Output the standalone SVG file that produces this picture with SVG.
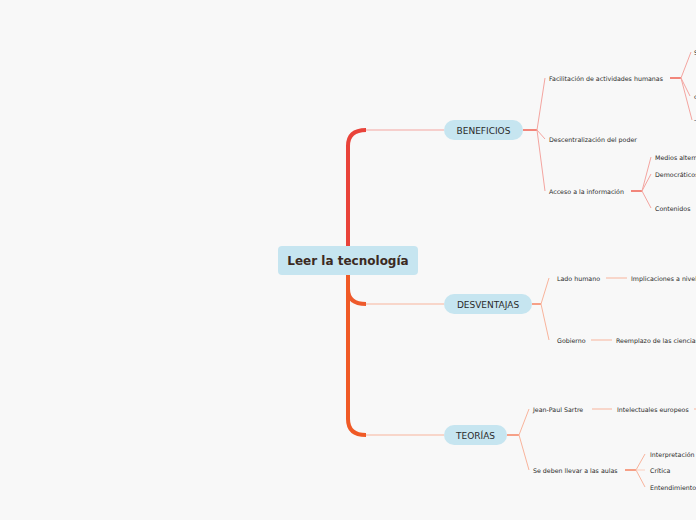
<svg xmlns="http://www.w3.org/2000/svg" width="696" height="520" viewBox="0 0 696 520">
<style>
.bg{fill:#f8f8f8}
.pill{fill:#c6e5f0}
.root{fill:#c6e5f0}
.rt{font-family:"DejaVu Sans",Verdana,sans-serif;font-weight:bold;font-size:12px;fill:#3b2a22;text-anchor:middle}
.nt{font-family:"DejaVu Sans",Verdana,sans-serif;font-size:9px;fill:#2a2a2a;text-anchor:middle}
.lt{font-family:"DejaVu Sans",Verdana,sans-serif;font-size:6.3px;fill:#2a2a2a}
.r{fill:none;stroke:#f4a5a0;stroke-width:1}
.o{fill:none;stroke:#f8b49c;stroke-width:1}
.rs{fill:none;stroke:#f06a5c;stroke-width:1.6}
.os{fill:none;stroke:#f58a6a;stroke-width:1.6}
</style>
<rect class="bg" x="0" y="0" width="696" height="520"/>
<g id="connectors">
<path d="M348,250 L348,146 Q348,130 366,130" fill="none" stroke="#e9433a" stroke-width="4"/>
<path d="M366,130 L444,130" class="r"/>
<path d="M348,272 L348,289 Q348,304 366,304" fill="none" stroke="#ee5a2c" stroke-width="4"/>
<path d="M366,304 L444,304" class="o"/>
<path d="M348,272 L348,419 Q348,435 366,435" fill="none" stroke="#f05a26" stroke-width="4"/>
<path d="M366,435 L444,435" class="o"/>
<path d="M523,130 L537,130" class="rs"/>
<path d="M537,130 L545,78 M537,130 L545,139 M537,130 L545,191" class="r"/>
<path d="M670,78 L681,78" class="rs"/>
<path d="M681,78 L691,52 M681,78 L690,96 M681,78 L692,120" class="r"/>
<path d="M631,191 L642,191" class="rs"/>
<path d="M642,191 L651,157 M642,191 L651,174 M642,191 L651,208" class="r"/>
<path d="M532,304 L541,304" class="os"/>
<path d="M541,304 L549,278 M541,304 L549,340" class="o"/>
<path d="M606,278 L627,278 M591,340 L612,340" class="o"/>
<path d="M507,435 L519,435" class="os"/>
<path d="M519,435 L529,409 M519,435 L529,470" class="o"/>
<path d="M592,409 L612,409 M694,409 L696,409" class="o"/>
<path d="M625,470 L636,470" class="os"/>
<path d="M636,470 L645,454 M636,470 L645,487" class="o"/>
<path d="M636,470 L645,470" fill="none" stroke="#fbd0c0" stroke-width="1"/>
</g>
<g id="root">
<rect class="root" x="278" y="246" width="140" height="29" rx="4"/>
<text class="rt" x="348" y="265">Leer la tecnología</text>
</g>
<g id="beneficios">
<rect class="pill" x="444" y="120" width="79" height="20" rx="10"/>
<text class="nt" x="483.5" y="133.5">BENEFICIOS</text>
</g>
<g id="desventajas">
<rect class="pill" x="444" y="294" width="88" height="20" rx="10"/>
<text class="nt" x="488" y="307.5">DESVENTAJAS</text>
</g>
<g id="teorias">
<rect class="pill" x="444" y="425" width="63" height="20" rx="10"/>
<text class="nt" x="475.5" y="438.5">TEORÍAS</text>
</g>
<g id="facilitacion"><text class="lt" x="549" y="80.5">Facilitación de actividades humanas</text></g>
<g id="f1"><text class="lt" x="694" y="54.5">S</text></g>
<g id="f2"><text class="lt" x="694" y="98.5">c</text></g>
<g id="f3"><text class="lt" x="694" y="122">-</text></g>
<g id="descentralizacion"><text class="lt" x="549" y="141.5">Descentralización del poder</text></g>
<g id="acceso"><text class="lt" x="549" y="193.5">Acceso a la información</text></g>
<g id="medios"><text class="lt" x="655" y="159.5">Medios alternativos</text></g>
<g id="democraticos"><text class="lt" x="655" y="176.5">Democráticos</text></g>
<g id="contenidos"><text class="lt" x="655" y="210.5">Contenidos</text></g>
<g id="lado"><text class="lt" x="557" y="280.5">Lado humano</text></g>
<g id="implicaciones"><text class="lt" x="631" y="280.5">Implicaciones a nivel</text></g>
<g id="gobierno"><text class="lt" x="557" y="342.5">Gobierno</text></g>
<g id="reemplazo"><text class="lt" x="616" y="342.5">Reemplazo de las ciencias</text></g>
<g id="sartre"><text class="lt" x="533" y="411.5">Jean-Paul Sartre</text></g>
<g id="intelectuales"><text class="lt" x="617" y="411.5">Intelectuales europeos</text></g>
<g id="aulas"><text class="lt" x="533" y="472.5">Se deben llevar a las aulas</text></g>
<g id="interpretacion"><text class="lt" x="650" y="456.5">Interpretación</text></g>
<g id="critica"><text class="lt" x="650" y="472.5">Crítica</text></g>
<g id="entendimiento"><text class="lt" x="650" y="489.5">Entendimiento</text></g>
</svg>
